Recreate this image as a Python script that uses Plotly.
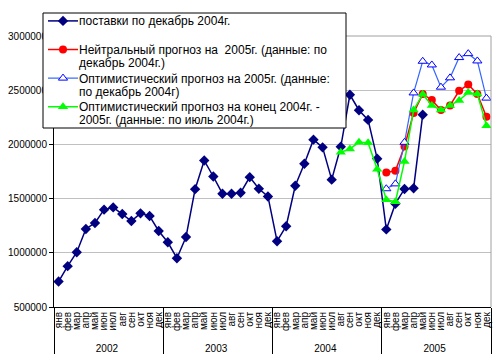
import plotly.graph_objects as go

months = ["янв", "фев", "мар", "апр", "май", "июн", "июл", "авг", "сен", "окт", "ноя", "дек"]
years = ["2002", "2003", "2004", "2005"]

supplies = [
    735000, 877000, 1005000, 1220000, 1275000, 1398000, 1419000, 1358000, 1293000, 1364000, 1339000, 1201000,
    1097000, 950000, 1146000, 1587000, 1851000, 1704000, 1545000, 1545000, 1554000, 1698000, 1591000, 1520000,
    1107000, 1245000, 1618000, 1821000, 2044000, 1973000, 1675000, 1978000, 2458000, 2315000, 2226000, 1867000,
    1216000, 1453000, 1589000, 1596000, 2274000, None, None, None, None, None, None, None,
]
neutral = [None] * 36 + [1741000, 1756000, 1981000, 2290000, 2464000, 2410000, 2317000, 2360000, 2494000, 2553000, 2464000, 2255000]
optimistic = [None] * 36 + [1591000, 1636000, 2019000, 2475000, 2767000, 2733000, 2528000, 2614000, 2801000, 2837000, 2770000, 2427000]
optimistic_late = [None] * 31 + [1928000, 1958000, 2019000, 2016000, 1770000,
                                 1490000, 1470000, 1843000, 2318000, 2462000, 2360000, 2317000, 2360000, 2406000, 2479000, 2464000, 2173000]

legend_lines = [
    ["поставки по декабрь 2004г."],
    ["Нейтральный прогноз на  2005г. (данные: по", "декабрь 2004г.)"],
    ["Оптимистический прогноз на 2005г. (данные:", "по декабрь 2004г)"],
    ["Оптимистический прогноз на конец 2004г. -", "2005г. (данные: по июль 2004г.)"],
]

xcat = [[y for y in years for _ in months], [m for _ in years for m in months]]

W, H = 500, 364
ML, MR, MT, MB = 54, 9, 36, 57
PW, PH = W - ML - MR, H - MT - MB


def px2paper_x(px):
    return (px - ML) / PW


def px2paper_y(py):
    return (H - MB - py) / PH


blank = "\u00a0<br>\u00a0"
fig = go.Figure()
fig.add_trace(go.Scatter(x=xcat, y=supplies, name=blank, mode="lines+markers",
                         line=dict(color="#000080", width=1.5),
                         marker=dict(symbol="diamond", size=8, color="#000080")))
fig.add_trace(go.Scatter(x=xcat, y=neutral, name=blank, mode="lines+markers",
                         line=dict(color="#FF0000", width=1.5),
                         marker=dict(symbol="circle", size=8, color="#FF0000")))
fig.add_trace(go.Scatter(x=xcat, y=optimistic, name=blank, mode="lines+markers",
                         line=dict(color="#3366FF", width=1.2),
                         marker=dict(symbol="triangle-up", size=8, color="white",
                                     line=dict(color="#0000FF", width=1))))
fig.add_trace(go.Scatter(x=xcat, y=optimistic_late, name=blank, mode="lines+markers",
                         line=dict(color="#00FF00", width=1.5),
                         marker=dict(symbol="triangle-up", size=9, color="#00FF00")))

fig.update_layout(
    width=W, height=H,
    margin=dict(l=ML, r=MR, t=MT, b=MB, autoexpand=False),
    paper_bgcolor="white", plot_bgcolor="white",
    font=dict(family="Liberation Sans, Arial, sans-serif", size=10, color="black"),
    showlegend=True,
    legend=dict(x=px2paper_x(43), y=px2paper_y(8), xanchor="left", yanchor="top",
                bgcolor="rgba(0,0,0,0)", borderwidth=0,
                font=dict(size=9.85), valign="top", tracegroupgap=0,
                itemwidth=30),
)
fig.update_yaxes(range=[500000, 3000000], dtick=500000, tickformat="d",
                 showgrid=True, gridcolor="#c0c0c0", gridwidth=1,
                 showline=True, linecolor="black", linewidth=1,
                 ticks="outside", ticklen=4, tickcolor="black",
                 tickfont=dict(size=10), zeroline=False, automargin=False)
fig.update_xaxes(type="multicategory", tickangle=-90, showgrid=False,
                 range=[-0.5, 47.5],
                 tickmode="linear", dtick=1, automargin=False,
                 showline=True, linecolor="black", linewidth=1,
                 showdividers=True, dividercolor="black", dividerwidth=1,
                 tickfont=dict(size=10))
fig.add_shape(type="line", xref="paper", yref="paper", x0=1, x1=1, y0=0, y1=1,
              line=dict(color="#a0a0a0", width=1))
fig.add_shape(type="line", xref="paper", yref="paper", x0=0, x1=1, y0=1, y1=1,
              line=dict(color="#a0a0a0", width=1))
# legend box
fig.add_shape(type="rect", xref="paper", yref="paper", layer="above",
              x0=px2paper_x(43), x1=px2paper_x(346), y0=px2paper_y(128), y1=px2paper_y(13),
              line=dict(color="black", width=1), fillcolor="white")

line_y = [[21], [50, 63], [79, 92], [107, 120]]
for texts, ys in zip(legend_lines, line_y):
    for t, yy in zip(texts, ys):
        fig.add_annotation(text=t, xref="paper", yref="paper", x=px2paper_x(78), y=px2paper_y(yy),
                           xanchor="left", yanchor="middle", showarrow=False,
                           font=dict(size=12), borderpad=0)

fig.write_html("out.html", config={"displayModeBar": False},
               post_script="document.body.style.margin='0';")
